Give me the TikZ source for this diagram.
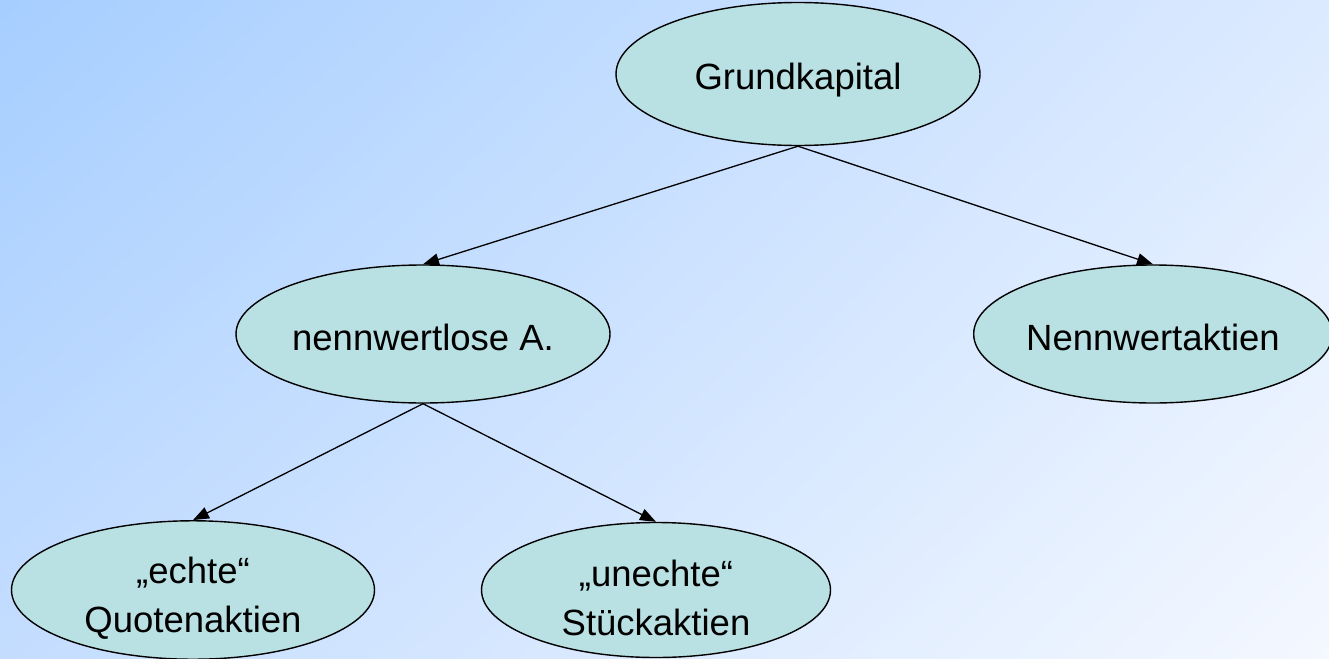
\documentclass[tikz,border=0pt]{standalone}
\usepackage{fontspec}
\setmainfont{Liberation Sans}
\usetikzlibrary{shapes.geometric,arrows.meta,shadings}
\definecolor{bgtl}{HTML}{A6CEFF}
\definecolor{bgtr}{HTML}{DCEAFF}
\definecolor{bgbl}{HTML}{C4DDFF}
\definecolor{bgbr}{HTML}{F4F8FF}
\definecolor{ellfill}{HTML}{B9E0E2}
\begin{document}
\begin{tikzpicture}[x=1pt,y=-1pt,
  ell/.style={ellipse,draw=black,line width=1.4pt,fill=ellfill,inner sep=0pt,align=center,
    font=\fontsize{36.5}{44}\selectfont},
  oneline/.style={text height=32pt,text depth=0pt},
  conn/.style={line width=1.3pt,-{Triangle[length=16pt,width=12pt]}}]
\shade[upper left=bgtl,upper right=bgtr,lower left=bgbl,lower right=bgbr] (0,0) rectangle (1329,658);
\useasboundingbox (0,0) rectangle (1329,658);
\node[ell,oneline,minimum width=364pt,minimum height=143pt] (gk) at (798,74) {Grundkapital};
\node[ell,oneline,minimum width=374pt,minimum height=138pt] (nl) at (423,334) {nennwertlose A.};
\node[ell,oneline,minimum width=350pt,minimum height=138pt] (nw) at (1153,334) {Nennwertaktien};
\node[ell,minimum width=363pt,minimum height=135pt] (qa) at (193,590) {\rule{0pt}{42pt}„echte“\\[5pt]Quotenaktien};
\node[ell,minimum width=349pt,minimum height=135pt] (sa) at (656,590) {\rule{0pt}{42pt}„unechte“\\[5pt]Stückaktien};
\draw[conn] (gk.south) -- (nl.north);
\draw[conn] (gk.south) -- (nw.north);
\draw[conn] (nl.south) -- (qa.north);
\draw[conn] (nl.south) -- (sa.north);
\end{tikzpicture}
\end{document}
